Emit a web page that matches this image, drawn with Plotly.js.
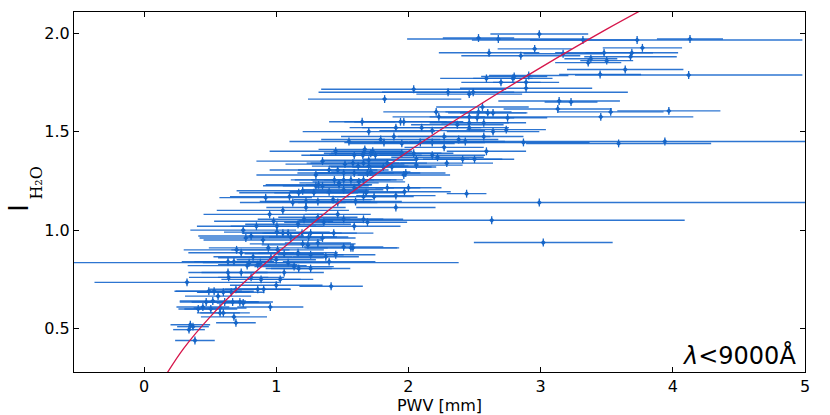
<!DOCTYPE html>
<html>
<head>
<meta charset="utf-8">
<script src="https://cdn.plot.ly/plotly-3.0.1.min.js"></script>
<style>
  html, body { margin: 0; padding: 0; background: #fff; }
  #myDiv { width: 830px; height: 415px; }
</style>
</head>
<body>
<div id="myDiv"></div>
<script>
// measured points: PWV [mm], I_H2O, half-width of PWV error
var pwv = [
  2.53, 2.68, 2.99, 3.32, 3.73, 3.77, 4.13, 2.61, 2.955, 2.85, 3.17, 3.48, 3.36, 3.38, 3.50, 3.68, 3.69, 3.64, 3.45, 4.12,
  2.59, 2.70, 2.79, 2.80, 2.91, 2.89, 2.04, 2.30, 2.46, 2.49, 2.89, 3.14, 3.23, 2.56, 2.21, 2.23, 3.13, 3.53, 3.97, 3.455,
  2.60, 2.53, 2.46, 2.75, 2.37, 2.46, 2.64, 2.74, 2.10, 2.18, 2.27, 2.38, 2.57, 2.87, 3.59, 3.94, 2.59, 2.29, 2.41, 2.50,
  2.06, 2.18, 2.44, 2.64, 2.46, 2.52, 2.57, 2.63, 3.02,
  1.82, 1.65, 1.94, 1.965, 1.905, 1.89, 1.79, 1.815, 1.655, 1.715, 1.75, 2.04, 1.58, 1.66, 1.84, 1.40, 1.465, 1.51, 1.59, 1.69,
  1.98, 1.44, 1.625, 1.32, 1.475, 1.59, 1.84, 2.00, 1.17, 1.285, 1.68, 0.92, 1.125, 1.225, 1.465, 1.905,
  1.95, 2.09, 2.27, 2.18, 2.43, 1.67, 1.73, 1.59, 1.95, 2.22, 1.52, 1.62, 1.70, 1.81, 1.875, 2.06, 1.715, 1.965, 1.51, 1.66,
  1.905, 1.97, 1.74,
  1.30, 1.35, 1.40, 1.225, 1.315, 1.43, 1.51, 1.60, 1.66, 1.66, 1.70, 1.475, 1.565, 0.98, 1.005, 1.165, 1.21, 1.315, 1.36, 1.465,
  1.51, 1.59, 1.66, 0.81, 1.09, 1.26, 1.35, 0.77,
  1.005, 1.05, 1.11, 1.195, 1.245, 1.435, 1.24, 1.315, 1.51, 1.58, 0.94, 0.735, 0.825, 1.01, 1.06, 1.165, 1.26, 1.375, 1.45, 0.635,
  0.68, 0.795, 0.86, 0.96, 1.00, 1.09, 1.40, 1.135, 1.17, 1.26, 1.06, 0.635, 0.64, 0.735, 0.81, 0.885, 1.03, 0.325, 1.415, 0.49,
  0.53, 0.60, 0.66, 0.695, 0.86, 0.905, 0.56, 0.52, 0.47, 0.61, 0.67, 0.725, 0.75, 0.955, 0.41, 0.445, 0.505, 0.575, 0.575, 0.60,
  0.68, 0.695, 0.35, 0.37, 0.34, 0.385, 1.69, 1.565,
  0.75, 0.85, 0.95, 1.05, 0.90, 1.10, 1.20, 0.70, 0.78, 1.30, 1.35, 1.45, 1.55, 1.70, 1.20, 1.00
];
var ih2o = [
  1.975, 1.97, 1.995, 1.965, 1.965, 1.925, 1.97, 1.90, 1.92, 1.885, 1.895, 1.90, 1.85, 1.87, 1.86, 1.88, 1.90, 1.815, 1.79, 1.787,
  1.77, 1.75, 1.77, 1.78, 1.785, 1.75, 1.715, 1.70, 1.69, 1.70, 1.72, 1.655, 1.65, 1.625, 1.60, 1.575, 1.615, 1.60, 1.605, 1.575,
  1.595, 1.60, 1.575, 1.57, 1.535, 1.52, 1.50, 1.51, 1.52, 1.505, 1.475, 1.46, 1.475, 1.445, 1.44, 1.45, 1.40, 1.34, 1.36, 1.36,
  1.36, 1.38, 1.185, 1.595, 1.545, 1.57, 1.545, 1.05, 0.937,
  1.665, 1.55, 1.55, 1.55, 1.52, 1.475, 1.46, 1.445, 1.38, 1.39, 1.38, 1.39, 1.34, 1.34, 1.34, 1.305, 1.305, 1.29, 1.29, 1.29,
  1.29, 1.255, 1.245, 1.23, 1.23, 1.215, 1.215, 1.215, 1.19, 1.19, 1.19, 1.165, 1.14, 1.115, 1.14, 1.115,
  1.44, 1.445, 1.42, 1.445, 1.45, 1.41, 1.40, 1.38, 1.39, 1.37, 1.335, 1.325, 1.325, 1.32, 1.32, 1.33, 1.295, 1.28, 1.255, 1.255,
  1.175, 1.195, 1.17,
  1.225, 1.225, 1.195, 1.145, 1.145, 1.155, 1.205, 1.145, 1.17, 1.39, 1.355, 1.24, 1.255, 1.045, 1.02, 1.03, 1.055, 1.065, 1.04, 1.08,
  1.055, 1.02, 1.055, 0.97, 0.985, 0.985, 0.96, 0.96,
  0.99, 0.985, 0.965, 0.985, 0.965, 0.985, 0.925, 0.935, 0.915, 0.91, 0.91, 0.885, 0.865, 0.90, 0.88, 0.885, 0.875, 0.865, 0.875, 0.84,
  0.84, 0.835, 0.825, 0.86, 0.85, 0.835, 0.84, 0.815, 0.805, 0.805, 0.785, 0.785, 0.76, 0.785, 0.76, 0.75, 0.75, 0.735, 0.715, 0.69,
  0.69, 0.685, 0.685, 0.70, 0.70, 0.70, 0.665, 0.64, 0.635, 0.635, 0.635, 0.635, 0.63, 0.61, 0.60, 0.61, 0.60, 0.605, 0.58, 0.58,
  0.56, 0.53, 0.52, 0.51, 0.495, 0.44, 1.04, 0.91,
  1.00, 1.02, 1.08, 1.10, 0.95, 1.17, 1.20, 0.90, 0.82, 1.28, 1.35, 1.40, 1.45, 1.50, 0.93, 0.72
];
var pwvErr = [
  0.27, 0.69, 0.37, 0.40, 1.25, 0.30, 0.25, 0.38, 0.28, 0.45, 0.30, 0.37, 0.25, 0.20, 0.20, 0.35, 0.35, 0.44, 0.31, 0.86,
  0.35, 0.30, 0.30, 0.25, 0.30, 0.25, 0.70, 0.50, 0.40, 1.17, 0.50, 0.46, 0.20, 0.35, 0.40, 0.35, 0.41, 0.40, 0.39, 0.70,
  0.30, 0.25, 0.30, 0.30, 0.35, 0.30, 0.35, 0.30, 0.45, 0.40, 0.35, 0.30, 0.30, 0.50, 0.70, 1.94, 0.30, 0.35, 0.30, 0.30,
  0.40, 0.40, 0.15, 0.25, 0.30, 0.28, 0.32, 1.46, 0.525,
  0.58, 0.25, 0.35, 0.45, 0.35, 0.40, 0.45, 0.30, 0.40, 0.30, 0.35, 0.30, 0.35, 0.40, 0.30, 0.45, 0.30, 0.35, 0.30, 0.40,
  0.30, 0.30, 0.35, 0.40, 0.25, 0.30, 0.25, 0.25, 0.45, 0.30, 0.30, 0.35, 0.40, 0.30, 0.30, 0.30,
  0.40, 0.35, 0.30, 0.40, 0.30, 0.35, 0.30, 0.40, 0.30, 0.35, 0.45, 0.35, 0.30, 0.40, 0.30, 0.35, 0.30, 0.35, 0.40, 0.30,
  0.30, 0.35, 0.30,
  0.40, 0.30, 0.30, 0.35, 0.40, 0.30, 0.30, 0.35, 0.25, 0.30, 0.35, 0.30, 0.30, 0.45, 0.35, 0.40, 0.35, 0.30, 0.30, 0.25,
  0.30, 0.35, 0.30, 0.40, 0.35, 0.35, 0.25, 0.35,
  0.40, 0.30, 0.35, 0.30, 0.30, 0.30, 0.35, 0.25, 0.30, 0.35, 0.45, 0.40, 0.30, 0.35, 0.30, 0.30, 0.25, 0.25, 0.30, 0.35,
  0.30, 0.35, 0.30, 0.40, 0.30, 0.30, 0.35, 0.30, 0.25, 0.30, 0.30, 0.30, 0.30, 0.30, 0.25, 0.30, 0.25, 0.70, 0.24, 0.25,
  0.30, 0.20, 0.25, 0.20, 0.25, 0.20, 0.25, 0.25, 0.20, 0.25, 0.20, 0.25, 0.20, 0.25, 0.15, 0.20, 0.20, 0.20, 0.15, 0.20,
  0.25, 0.15, 0.15, 0.12, 0.12, 0.15, 0.30, 0.35,
  0.40, 0.45, 0.50, 0.50, 0.45, 0.45, 0.50, 0.40, 0.45, 0.45, 0.50, 0.50, 0.45, 0.50, 0.40, 0.35
];

// two points with very wide, lopsided PWV errors
var wideX = [0.88, 2.99];
var wideY = [0.835, 1.14];
var widePlus = [1.50, 2.20];
var wideMinus = [1.50, 1.40];

// fitted relation
var curveX = [0.17, 0.30, 0.50, 0.75, 1.00, 1.25, 1.50, 2.00, 2.50, 3.00, 3.50, 3.80];
var curveY = [0.27, 0.40, 0.56, 0.73, 0.88, 1.02, 1.155, 1.40, 1.62, 1.825, 2.02, 2.13];

var blue = '#1565c8';
var barColor = 'rgba(22,102,204,0.9)';

var data = [
  {
    x: wideX, y: wideY, mode: 'markers', type: 'scatter', hoverinfo: 'x+y',
    marker: {symbol: 'diamond', size: 4, color: blue},
    error_x: {type: 'data', symmetric: false, array: widePlus, arrayminus: wideMinus,
              color: barColor, thickness: 1.4, width: 0},
    error_y: {type: 'constant', value: 0.02, color: blue, thickness: 1.3, width: 0}
  },
  {
    x: pwv, y: ih2o, mode: 'markers', type: 'scatter', hoverinfo: 'x+y',
    marker: {symbol: 'diamond', size: 4, color: blue},
    error_x: {type: 'data', array: pwvErr, color: barColor, thickness: 1.4, width: 0},
    error_y: {type: 'constant', value: 0.02, color: blue, thickness: 1.3, width: 0}
  },
  {
    x: curveX, y: curveY, mode: 'lines', type: 'scatter', hoverinfo: 'skip',
    line: {color: '#d6164b', width: 1.3, shape: 'spline'}
  }
];

var axisFont = {family: 'DejaVu Sans', size: 16, color: '#000'};

var layout = {
  width: 830, height: 415,
  margin: {l: 74, r: 25, t: 12, b: 43},
  paper_bgcolor: '#fff', plot_bgcolor: '#fff',
  showlegend: false,
  font: {family: 'DejaVu Sans', color: '#000'},
  xaxis: {
    range: [-0.53, 5], tickvals: [0, 1, 2, 3, 4, 5],
    ticks: 'inside', ticklen: 5, tickcolor: '#000', mirror: 'ticks',
    showline: true, linecolor: '#000', linewidth: 1, showgrid: false, zeroline: false,
    tickfont: axisFont,
    title: {text: 'PWV [mm]', font: {family: 'DejaVu Sans', size: 16}, standoff: 2}
  },
  yaxis: {
    range: [0.28, 2.107], tickvals: [0.5, 1.0, 1.5, 2.0], ticktext: ['0.5', '1.0', '1.5', '2.0'],
    ticks: 'inside', ticklen: 5, tickcolor: '#000', mirror: 'ticks',
    showline: true, linecolor: '#000', linewidth: 1, showgrid: false, zeroline: false,
    tickfont: axisFont
  },
  annotations: [
    {
      // y-axis label: large I with H2O subscript, drawn in two pieces
      xref: 'paper', yref: 'paper', x: -0.0752, y: 0.4556, xanchor: 'center', yanchor: 'middle',
      text: 'I', textangle: -90, showarrow: false,
      font: {family: 'DejaVu Sans', size: 27, color: '#000'}
    },
    {
      xref: 'paper', yref: 'paper', x: -0.0525, y: 0.525, xanchor: 'center', yanchor: 'middle',
      text: 'H₂O', textangle: -90, showarrow: false,
      font: {family: 'DejaVu Serif', size: 16, color: '#000'}
    },
    {
      xref: 'paper', yref: 'paper', x: 0.99, y: 0.0, xanchor: 'right', yanchor: 'bottom',
      text: '<i>λ</i>&lt;9000Å', showarrow: false,
      font: {family: 'DejaVu Sans', size: 24, color: '#000'}
    }
  ]
};

Plotly.newPlot('myDiv', data, layout, {displayModeBar: false, staticPlot: true});
</script>
</body>
</html>
